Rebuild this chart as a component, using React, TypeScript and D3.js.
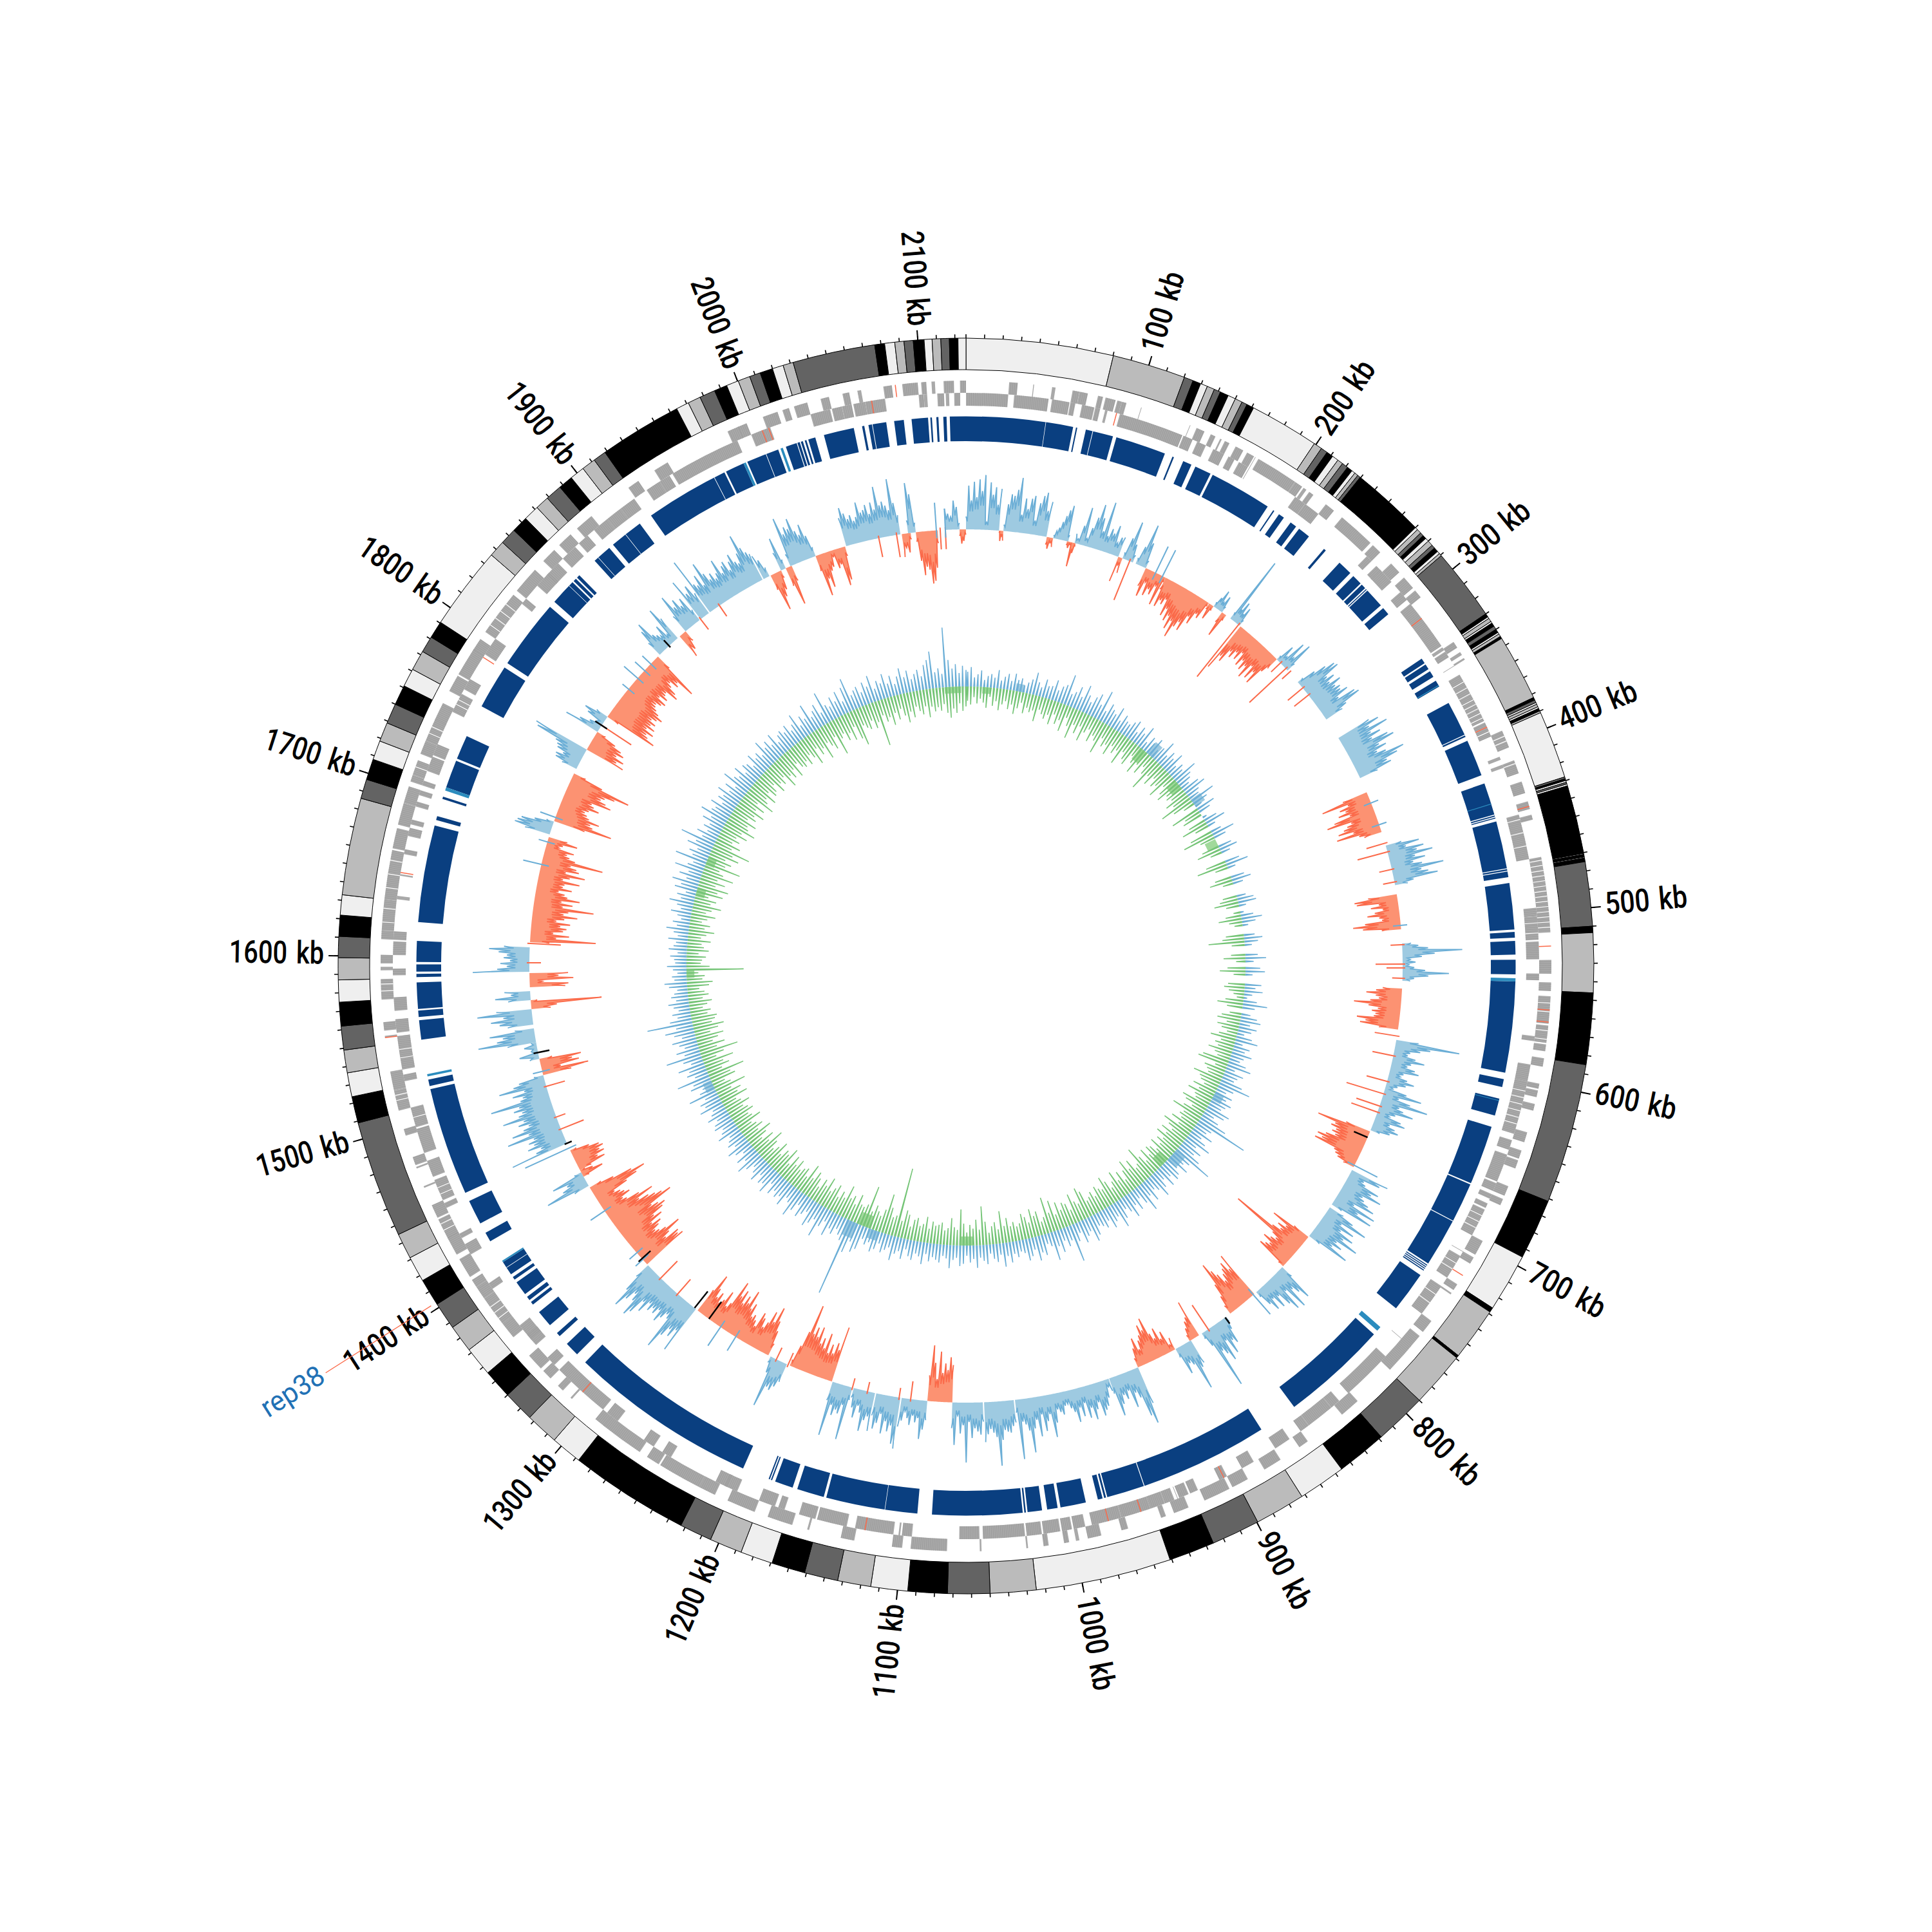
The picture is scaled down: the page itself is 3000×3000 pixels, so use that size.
import * as d3 from "d3";

const GENOME_KB = 2126;
const SHADES: Record<string, string> = { L: "#efefef", M: "#bbbbbb", D: "#636363", K: "#000000" };

const ideogramBands: [number, number, string][] = [
  [0,80.2,"L"],[80.2,120.2,"M"],[120.2,125.2,"D"],[125.2,129.6,"K"],[129.6,133.5,"L"],[133.5,137.6,"M"],[137.6,141.2,"D"],[141.2,145.8,"K"],
  [145.8,150,"L"],[150,154,"M"],[154,157,"D"],[157,161,"K"],[161,199,"L"],[199,203.6,"M"],[203.6,207.3,"D"],[207.3,211,"K"],[211,214.5,"L"],
  [214.5,217.6,"M"],[217.6,221,"D"],[221,224,"K"],[224,226,"L"],[226,228,"M"],[228,229.7,"D"],[229.7,270,"K"],
  [270,271.5,"L"],[271.5,274,"M"],[274,276,"D"],[276,278,"K"],[278,280,"L"],[280,283,"M"],[283,285,"D"],[285,287.5,"K"],[287.5,289,"L"],[289,290.5,"M"],
  [290.5,330,"D"],[330,332,"K"],[332,333,"L"],[333,335,"M"],[335,336,"L"],[336,338,"K"],[338,340,"D"],[340,342,"K"],[342,343,"L"],[343,344.5,"M"],[344.5,345.8,"K"],
  [345.8,382,"M"],[382,383.5,"K"],[383.5,385,"D"],[385,386,"L"],[386,387.5,"M"],[387.5,388.5,"L"],[388.5,390,"K"],[390,391,"M"],
  [391,428,"L"],[428,429,"D"],[429,430,"K"],[430,431,"L"],[431,432,"D"],[432,433,"L"],[433,434.4,"K"],[434.4,469.5,"K"],
  [469.5,470.5,"K"],[470.5,471,"L"],[471,472.5,"K"],[472.5,473,"L"],[473,475,"K"],[475,510,"D"],[510,513.5,"K"],[513.5,546,"M"],[546,585,"K"],[585,661.5,"D"],
  [661.5,694.6,"K"],[694.6,726.4,"L"],[726.4,729,"K"],[729,758,"M"],[758,759.5,"K"],[759.5,790,"M"],[790,818.5,"D"],[818.5,846,"K"],[846,872,"L"],[872,899.5,"M"],
  [899.5,926,"D"],[926,951,"K"],[951,1025,"L"],[1025,1050,"M"],[1050,1073,"D"],[1073,1094.5,"K"],[1094.5,1114.6,"L"],[1114.6,1132.7,"M"],[1132.7,1151,"D"],
  [1151,1169.3,"K"],[1169.3,1187,"L"],[1187,1204.8,"M"],[1204.8,1222.5,"D"],[1222.5,1288,"K"],[1288,1305,"L"],[1305,1323,"M"],[1323,1340,"D"],[1340,1356,"K"],
  [1356,1372,"L"],[1372,1387,"M"],[1387,1402,"D"],[1402,1417,"K"],[1417,1431,"L"],[1431,1445,"M"],[1445,1509,"D"],[1509,1523.5,"K"],[1523.5,1536.6,"L"],
  [1536.6,1549,"M"],[1549,1562,"D"],[1562,1575,"K"],[1575,1587,"L"],[1587,1599,"M"],[1599,1610.5,"D"],[1610.5,1622,"K"],[1622,1633,"L"],[1633,1686,"M"],
  [1686,1696.6,"D"],[1696.6,1708,"K"],[1708,1718.5,"L"],[1718.5,1729,"M"],[1729,1740,"D"],[1740,1751,"K"],[1751,1761,"L"],[1761,1772,"M"],[1772,1781,"D"],
  [1781,1790.5,"K"],[1790.5,1836,"L"],[1836,1845,"M"],[1845,1854,"D"],[1854,1863,"K"],[1863,1871.5,"L"],[1871.5,1879,"M"],[1879,1888,"D"],[1888,1896,"K"],
  [1896,1904,"L"],[1904,1911.6,"M"],[1911.6,1918.7,"D"],[1918.7,1964,"K"],[1964,1971,"L"],[1971,1978,"M"],[1978,1986.6,"D"],[1986.6,1993.7,"K"],[1993.7,2000.4,"L"],
  [2000.4,2007,"M"],[2007,2013,"D"],[2013,2020,"K"],[2020,2026,"L"],[2026,2031.6,"M"],[2031.6,2076.6,"D"],[2076.6,2082,"K"],[2082,2087.5,"L"],[2087.5,2092.5,"M"],
  [2092.5,2097.5,"D"],[2097.5,2103.4,"K"],[2103.4,2107.7,"L"],[2107.7,2112.4,"M"],[2112.4,2117,"D"],[2117,2121.7,"K"],[2121.7,2126,"L"],
];

const geneOuter: [number, number][] = [
  [25,30],[39,39.5],[50,52],[62,66],[66,71],[77,80],[81.5,87.5],[88.5,91],[91,94],[137,142],[146,149],[152,153],[155,158],[162,167],[169.5,174],[177,202],[202,207],[208,210],[212,215],[224,230],[236,258],[260,266],[275,282],[286,294],[296,301],[333,337],[340,342],[344,345],[391.5,402],[410,418],[423,430],[435,439.5],[443,446],[468,512],[528,536],[541,546],[549,565],[566,576],[577,581],[585,590],[600,603],[604,608],[612,616],[629,635],[640,645],[646,651],[662,668],[670,674],[697,706],[708,712],[726,730],[732,733],[752,760],[763,789],[815,827],[852,858],[871,882],[893,903],[905,921],[931,940],[945,948],[968,972],[984,992],[997,999],[1003,1006],[1015,1018],[1027,1028],[1054,1055],[1074,1095],[1100,1106],[1128,1136],[1155,1156],[1165,1180],[1188,1205],[1213,1223],[1223,1249],[1250,1258],[1263,1289],[1288,1295],[1313,1314],[1320,1324],[1330,1336],[1338,1348],[1362,1372],[1372,1390],[1390,1398],[1398,1403],[1405,1417],[1420,1431],[1430,1443],[1444,1452],[1463,1464],[1475,1476],[1477,1482],[1495,1499],[1510,1522],[1522,1533],[1553,1554],[1557,1562],[1575,1587],[1592,1594],[1596,1601],[1610,1615],[1615,1633],[1633,1662],[1663,1675],[1677,1690],[1690,1700],[1703,1707],[1707,1716],[1720,1728],[1728,1742],[1741,1752],[1760,1770],[1771,1788],[1787,1795],[1800,1827],[1830,1846],[1853,1862],[1866,1875],[1880,1891],[1918,1925],[1936,1945],[1984,1991],[1990,1996],[2006,2015],[2018,2022],[2025,2033],[2041,2046],[2054,2058],[2063,2065],[2078,2083],[2089,2098],[2100,2103],[2106,2108],[2113,2119],[2122.5,2126],
];
const geneInner: [number, number][] = [
  [0,25],[28.5,49],[51,61.5],[62,65],[69,76.5],[77,80],[83,84.5],[92,131],[131.7,137.6],[140.5,146],[151,158],[161,165],[168,174],[207,214],[214,224],[262,266],[270,274],[273,283],[291,297],[300,331],[332,334],[335,339],[351,382],[383,392],[405,407],[410,412],[441,468],[497,502],[502,516],[517,527.5],[536,540],[573,576],[590,600],[600,632],[636,642],[645,662],[663,668],[670,673],[676,679],[680,697],[711,726],[732,752],[785,816],[823,829],[829,846],[846,852],[860,870],[885,893],[903,908],[922,927],[928,934],[937,943],[943,952],[952,970],[970,988],[992,999],[1000,1006],[1007,1017],[1018,1027],[1028,1053],[1055,1067],[1095,1101],[1102,1103],[1106,1129],[1134,1152],[1153,1163],[1172,1176],[1178,1188],[1202,1210],[1208,1216],[1246,1252],[1258,1265],[1284,1292],[1295,1330],[1334,1340],[1350,1358],[1354,1365],[1392,1396],[1416,1423],[1427,1430],[1447,1450],[1452,1465],[1467,1477],[1482,1497],[1498,1510],[1526,1530],[1533,1553],[1555,1563],[1568,1576],[1589,1593],[1601,1609],[1610,1615],[1634,1636],[1648,1649],[1661,1664],[1672,1677],[1679,1682],[1690,1693],[1697,1700],[1703,1706],[1712,1721],[1722,1729],[1750,1762],[1765,1772],[1789,1800],[1826,1830],[1840,1850],[1848,1858],[1862,1872],[1875,1882],[1887,1897],[1897,1907],[1907,1917],[1926,1935],[1935,1942],[1944,1987],[1996,2008],[2033,2045],[2046,2052],[2052,2058],[2059,2066],[2066,2078],[2098,2101],[2101,2103],[2109,2113],[2114,2116],[2119,2122.5],
];
const geneGapsOuter = [395,398,412,470,473,476,479,482,485,488,491,494,497,500,503,506,509,553,558,569,574,1376,1380,1384,1436,1440,1516,1519,1580,1584,1620,1628,1640,1648,1656,1712,1733,1737,1805,1810,1815,1820];
const geneGapsInner = [356,360,364,368,371,374,377,380,386,389,444,452,460,506,512,606,610,614,618,622,626,684,688,692,716,720,738,744,1456,1460,1504,1540,1545,1755,1758];
const geneRedInner = [90,311,905,958,978,1123,2003,2007,2070,386,1311,1787,1650];
const geneRedOuter = [438,520,557,564,2085,1553,720];
const geneThinLines = [103,133,175,296,345,708,771,935,1155,1313,1450,2063];

const blueSegments: [number, number][] = [
  [2116,2126],[0,49.2],[49.5,66.4],[68.2,69],[74.4,78.6],[79,91.6],[93.8,125.3],[130.3,131.3],[137.5,143],[145.7,156],[157.5,196.6],[200.7,201.5],[205,208.7],[213.8,218],[220.3,228],[240,241.5],[252.8,262],[264.6,271],[272,275],[275.8,276.4],[277,289.4],[291.6,296.5],[330.7,334],[335,338.4],[340,344],[346.8,351],[362.6,384.5],[385,386],[388.6,411.6],[416.9,437],[437.6,438.4],[439,439.6],[441.4,471],[471.5,472.5],[473,476.5],[480.2,509],[510.5,514],[516,524.5],[527.6,536.7],[541,597.6],[601.7,606.6],[614,624.8],[632,669],[669.8,694.5],[695,725],[726,726.6],[727.2,727.8],[728.4,729],[729.6,730.3],[733.6,759],[780,846.5],[871,951],[951.5,975],[975.8,977],[978,981],[988.6,1004.5],[1006.3,1012.8],[1016,1025],[1026,1027],[1028,1084],[1093,1113],[1113.3,1150],[1151.6,1168.6],[1171.6,1183],[1185,1185.8],[1186.5,1187.3],[1204.3,1322],[1329,1338],[1344.5,1347],[1353.5,1364],[1370,1372],[1373.5,1376],[1378,1387],[1389,1391],[1393,1402],[1417,1423],[1429.6,1445],[1450.6,1518],[1520,1524],[1549,1561],[1563,1567],[1568,1584.4],[1587.7,1589.6],[1591,1595.5],[1597,1610],[1621.6,1682],[1685.5,1688],[1699,1700.5],[1706.5,1724],[1725.4,1740.5],[1761,1788.8],[1792,1835.5],[1839.6,1856],[1857,1859],[1860,1862],[1875,1887],[1890,1911],[1919.5,1972],[1973.1,1985],[1987.5,2008],[2013,2020],[2020.5,2022],[2022.7,2024],[2025.2,2026.3],[2027.5,2032],[2037.5,2056.4],[2061.6,2063],[2065.6,2076.7],[2081.6,2087.6],[2092.4,2102.6],[2104,2105],[2107.7,2109],[2112,2114],
];
const lightBlueSegments: [number, number][] = [[539,541],[774,777],[1402,1403],[1526,1527.5],[1704.5,1706.5],[1985,1986.5],[2009.5,2011],[350,350.6],[430,430.5],[615,615.4]];
const blueWhiteLines = [1398,1853,1878,1900,1965,2000,2068];

// Outer skew track: [start kb, end kb, direction, heights read along the run]
const skewRuns: [number, number, number, number[]][] = [
  [0,25.6,1,[20,68,45,74,50,78,60,85,12,74,55,67,40,65]],
  [25.6,29,-1,[3,16,8,15]],
  [29,62.7,1,[10,42,58,56,66,85,28,54,38,55,60,22,50,62,68,40,55]],
  [63,68,-1,[12,18,8,14]],
  [68,80,1,[5,12,18,28,38,48,56,10]],
  [79,86,-1,[6,10,4,38,16,5]],
  [85,120.6,1,[15,8,30,60,12,30,48,70,50,30,78,25,38,32,46,20,30,32]],
  [120.6,124,-1,[40,12,24]],
  [124,132.6,1,[10,35,63,28,12]],
  [135,143.6,1,[10,30,68,40,12]],
  [143.6,160.8,-1,[30,45,20,40,28,35,18,48,8]],
  [160.8,199.6,-1,[20,47,35,40,30,55,42,60,50,70,55,80,60,50,62,35,45,25,30,6]],
  [200,204,-1,[10,25,8]],
  [204,212,1,[8,18,32,14,26,10]],
  [212,216,-1,[18,40,10]],
  [220,229,1,[12,110,22,36,18,30,10]],
  [230,268,-1,[80,55,62,40,48,35,45,30,50,38,52,42,60,35,55,40,58,30,20]],
  [268,280,1,[8,30,14,45,20,50,15]],
  [292,328.5,1,[10,30,48,62,65,40,50,38,55,42,48,45,55,35,62,67,40,30]],
  [345.6,381,1,[55,69,50,79,48,62,45,70,78,50,60,42,55,83,70,50,55,30]],
  [393,426,-1,[40,76,35,50,42,55,38,65,78,40,48,55,65,42,70,35,28]],
  [437,468.5,1,[25,52,30,57,45,69,40,55,35,48,81,45,55,69,30,20]],
  [475.6,503,-1,[45,67,64,30,43,25,38,50,32,28,55,74,59,30]],
  [514,543,1,[14,25,40,93,50,30,12,20,10,18,35,72,40,18,12]],
  [549,581,-1,[30,40,55,40,35,48,73,50,35,44,38,40,66,52,60,30]],
  [589,662,1,[35,100,55,40,25,22,35,50,30,25,38,45,22,18,30,42,30,18,12,35,60,25,45,74,30,38,55,28,20,40,48,25,35,42,30,15]],
  [663,693.5,-1,[40,85,55,60,50,55,48,62,74,65,75,40,36,30,18]],
  [696,727,1,[62,50,25,30,55,45,64,35,40,50,62,30,69,42,68,18]],
  [729.6,757,1,[25,45,71,30,55,35,60,46,74,40,52,38,68,20]],
  [758,788,-1,[28,65,38,50,42,55,122,48,38,45,55,40,45,52,10]],
  [789,817,1,[20,60,45,35,66,30,62,48,28,45,25,42,28,10]],
  [819,843,-1,[78,55,70,62,55,45,60,70,85,50,30,15]],
  [847,870,1,[8,20,42,35,55,30,62,48,40,99,25,10]],
  [872.5,881,-1,[60,35,30,20,10]],
  [880,893.6,1,[40,45,79,35,30,45,15]],
  [894,926,-1,[20,10,35,25,45,30,40,68,50,60,45,38,25,45,30,15]],
  [926,950,1,[60,91,77,45,35,57,28,40,32,45,62,25]],
  [950.5,1025,1,[20,12,28,40,45,53,30,40,55,35,50,25,45,30,52,35,28,20,22,35,30,25,45,67,30,40,55,28,62,35,48,85,50,40,35,93,20]],
  [1026,1049,1,[35,40,50,48,45,60,100,55,48,42,50,62]],
  [1050,1073.6,1,[30,50,45,40,55,30,93,35,48,20,66,40]],
  [1073.6,1093,-1,[58,70,50,60,45,78,35,60,87,40]],
  [1093,1113,1,[30,45,60,28,35,25,40,30,20,35,45]],
  [1114,1133,1,[80,73,45,55,40,60,30,45,55,35]],
  [1134,1151,1,[60,38,45,63,35,25,45,30,15]],
  [1152,1168,1,[20,84,30,45,40,50,35,85,30]],
  [1168.7,1203.6,-1,[88,50,60,42,55,40,70,45,60,50,75,58,72,60,105,60,35,10]],
  [1206,1220,1,[30,40,48,45,79,25,10]],
  [1222,1287,-1,[20,40,55,76,50,65,45,35,48,55,30,38,45,40,60,50,78,55,65,50,70,58,80,40,32,55,38,30,45,35,48,69,40]],
  [1288.6,1339,1,[79,45,60,50,65,90,40,35,45,55,38,48,42,50,40,60,45,70,79,55,45,60,78,50,25]],
  [1340,1414.5,-1,[75,68,72,50,60,83,60,50,45,55,62,48,70,58,78,85,75,65,104,90,80,70,55,82,60,40,35,50,43,38,30,55,75,91,70,40,20]],
  [1416,1428,1,[25,70,40,30,52,12]],
  [1424,1430,-1,[10,35,20,8]],
  [1430,1447,-1,[20,45,35,48,42,50,45,30,10]],
  [1453,1509,1,[92,50,40,60,48,55,45,86,50,75,55,45,60,50,82,55,48,60,50,94,45,40,55,35,74,50,40,15]],
  [1509,1522,-1,[45,73,30,60,50,65,20]],
  [1522,1535,1,[15,30,10,20,8]],
  [1535,1546,1,[45,90,60,50,70,30]],
  [1549,1561,1,[40,52,65,45,85,55]],
  [1561,1568,-1,[30,40,110,10]],
  [1568,1575,1,[35,55,30,40]],
  [1578,1589,-1,[55,60,20,68,45,60]],
  [1590,1609,1,[88,50,35,45,30,40,35,48,63,40]],
  [1613,1696,-1,[30,102,40,60,35,50,55,45,60,38,50,70,48,55,94,45,60,42,70,50,45,35,55,40,42,65,38,48,71,40,60,55,45,95,50,40,35,45,20,25,47,30]],
  [1698,1708.5,1,[40,58,55,50,30,12]],
  [1709,1749,-1,[50,92,60,55,68,50,45,40,45,60,50,45,75,65,55,60,75,97,50,20]],
  [1753,1770,1,[25,38,40,30,42,45,50,85,90]],
  [1770,1786,-1,[64,50,60,45,55,48,35,15]],
  [1786,1800,1,[57,35,20,10,30,38,20]],
  [1800,1861,-1,[20,84,70,65,75,60,72,62,68,58,65,72,62,55,50,48,55,60,45,57,50,48,67,60,48,42,55,50,78,25]],
  [1863,1882,1,[25,45,56,30,25,20,35,15,60,40]],
  [1884,1890,-1,[40,30,18]],
  [1890,1904,1,[30,63,40,50,35,45,20]],
  [1905,1913,1,[71,45,55,38]],
  [1914,1962,1,[95,50,45,60,40,76,55,42,50,38,45,65,40,50,55,38,50,60,45,40,55,83,60,50,45]],
  [1963,1968,1,[40,30,15]],
  [1969,1978,-1,[25,60,40,30,12]],
  [1978,1982,1,[30,52,15]],
  [1982,1987,-1,[30,62,25]],
  [1986,2007,1,[20,78,50,60,55,70,48,40,55,35,15]],
  [2007,2031,-1,[25,66,40,55,30,25,10,30,25,60,52,15]],
  [2032,2075,1,[45,60,50,40,45,35,40,62,45,48,55,40,57,45,80,50,55,48,40,88,50,30]],
  [2076,2083,-1,[36,22,30,10]],
  [2081,2087,1,[20,78,60,15]],
  [2087,2104,-1,[15,45,68,55,60,82,78,58,20]],
  [2110,2121,1,[33,25,20,45,35,10]],
  [2121,2126,-1,[10,22,18,8]],
];
// Single opposite spikes inside runs: [kb, signed height]
const skewCross: [number, number][] = [
  [130,-65],[152,45],[158,45],[228,-103],[278,-77],[272,-20],[282,-15],[298,-30],[305,-28],[402,12],[420,12],[435,-30],[442,-48],[456,-20],[466,-18],
  [500,10],[515,-18],[530,-42],[533,-25],[541,-16],[586,-35],[601.6,-33],[622,-33],[632,-60],[642,-38],[647,-43],[692,40],[820,40],[864,-45],[1106,-28],[1115,-15],[1140,-15],[1152,-15],
  [1205,-20],[1215,-20],[1251,25],[1265,35],[1307,-30],[1325,-37],[1345,15],[1352,15],[1393,26],[1449,75],[1465,-38],[1475,-15],[1500,-30],[1512,15],[1597,-18],[1612,-48],[1674,29],[1692,14],[1712,25],[1792,-55],
  [1827,12],[1838,28],[1846,20],[1853,18],[1905,-20],[1923,-20],[2058,-30],[2072,-35],[2103,43],[2106,-30],[2110,-30],[2110,33],
];
const skewBlack: [number, number, number][] = [[668,655,678],[848,678,690],[1276,645,678],[1290,645,678],[1346,660,685],[1527,660,685],[1453,670,682],[1792,668,690],[1873,675,690]];

// Inner track: heights per 4 kb bin
const innerUp = [
  32,40,22,28,35,18,26,30,24,38,20,28,34,22,36,26,30,18,25,32,45,30,22,38,28,
  30,42,26,35,40,58,28,34,45,30,52,38,28,40,48,32,58,26,42,35,30,45,24,38,30,
  28,36,42,24,38,30,46,20,35,28,40,22,32,48,26,38,30,44,24,34,28,50,36,30,22,
  38,46,30,25,50,34,18,40,28,0,12,30,42,20,0,25,46,28,0,0,30,38,22,0,0,
  32,45,20,0,0,30,40,24,0,0,0,22,35,38,18,0,10,28,42,30,15,0,0,25,38,
  30,18,0,0,28,42,20,0,32,40,18,0,0,35,25,38,20,10,30,48,28,0,22,35,42,
  25,38,30,18,34,45,20,35,28,42,30,25,38,48,22,40,32,28,45,60,35,24,38,30,42,
  35,30,48,42,26,38,55,90,36,30,45,28,40,52,30,44,35,50,73,40,32,45,28,38,42,
  30,44,26,38,50,34,28,45,32,55,38,24,42,30,48,35,26,40,52,30,36,44,28,38,32,
  28,42,50,30,36,45,25,38,68,32,40,28,46,34,55,30,24,42,36,48,28,38,44,30,26,
  35,28,42,30,47,26,38,32,22,40,34,28,45,30,36,24,38,42,28,32,46,30,26,38,34,
  30,38,26,44,32,28,40,35,24,42,30,36,48,28,34,40,26,38,44,30,36,28,48,55,40,
  60,122,45,38,30,42,35,50,28,40,60,34,44,52,30,38,46,28,42,55,35,30,48,36,42,
  34,44,28,50,38,42,30,46,36,28,40,52,32,44,26,38,48,30,40,34,28,46,36,30,42,
  38,30,44,34,28,48,36,42,30,55,34,26,45,38,62,30,42,36,52,28,40,65,34,46,30,
  38,48,30,42,55,36,79,44,30,38,26,34,42,28,36,30,24,38,45,28,32,22,30,40,26,
  28,35,22,38,30,26,40,24,32,45,28,36,22,30,42,26,34,48,30,38,24,45,36,52,30,
  44,30,55,36,28,60,34,42,30,50,38,65,32,44,28,38,30,46,34,55,40,36,48,30,42,
  36,50,32,44,28,55,40,34,48,30,42,38,28,46,34,40,30,52,36,44,32,48,28,38,42,
  35,44,30,38,52,28,42,34,55,30,38,46,28,60,36,30,44,34,48,28,50,62,32,38,42,
  30,45,36,52,28,40,34,48,30,42,26,38,50,34,44,28,36,42,30,48,55,67,34,40,30,98,52,38,45,30,42,35,
];
const innerDown = [
  24,30,18,28,20,26,34,16,30,22,36,26,20,32,24,38,28,18,34,24,30,26,42,22,28,
  34,26,40,22,36,28,44,20,32,50,26,38,24,46,30,22,40,28,34,52,24,36,30,44,26,
  36,28,48,24,34,40,20,30,44,26,38,22,32,56,28,40,24,36,30,46,22,34,42,28,32,
  26,40,30,55,36,20,0,48,28,34,0,30,44,24,0,38,52,26,0,0,30,40,20,0,0,
  34,50,22,0,0,28,38,18,0,0,0,24,30,40,22,0,12,26,38,22,14,0,0,30,36,
  58,22,0,0,24,36,16,0,30,42,20,0,0,28,34,26,18,12,30,42,26,0,20,32,38,
  22,36,28,18,30,42,24,32,26,40,28,22,44,50,20,36,30,26,48,36,32,24,40,28,44,
  30,26,46,38,24,36,52,30,34,28,42,26,50,38,28,44,32,46,30,38,28,42,26,36,40,
  28,42,24,36,55,30,26,44,32,50,36,22,40,28,46,32,24,38,48,30,34,40,26,36,30,
  26,44,52,28,34,48,24,36,40,30,44,26,50,32,58,28,22,40,34,46,26,36,42,28,24,
  32,26,40,28,52,24,36,30,20,38,62,26,42,28,34,22,36,58,26,30,44,28,24,36,32,
  30,36,24,42,30,26,38,34,22,40,46,28,109,34,30,44,64,38,26,32,40,28,67,36,30,
  32,46,28,40,34,52,30,38,26,44,36,28,48,32,40,24,36,44,30,50,26,38,34,28,42,
  30,42,24,48,34,38,26,44,32,24,36,50,28,40,22,34,46,26,38,30,24,44,32,28,40,
  34,28,42,30,24,46,32,40,26,52,30,22,42,36,60,26,40,32,50,24,38,62,30,44,26,
  36,46,26,40,50,32,38,42,28,34,22,30,38,24,34,28,20,36,42,26,30,20,90,38,24,
  26,32,20,36,28,24,38,22,30,42,26,34,20,28,40,24,32,46,28,36,22,44,34,50,28,
  42,28,52,34,26,58,32,40,28,48,36,62,30,42,26,36,28,44,32,52,38,34,46,28,40,
  34,48,30,42,26,52,38,32,46,28,40,36,26,44,32,38,28,50,34,42,30,46,26,36,40,
  33,42,28,36,50,26,40,32,52,28,36,44,26,58,34,28,42,32,46,26,48,60,30,36,40,
  28,42,34,73,26,38,32,46,28,40,24,36,48,32,42,26,34,40,28,46,30,38,32,38,28,42,50,36,43,28,40,33,
];
const innerWedges: [number, number, number, number][] = [
  [228,238,-1,22],[238,248,1,22],[285,298,-1,18],[316,326,1,18],[372,382,-1,18],[690,700,1,15],[775,790,1,18],[790,802,-1,18],[1055,1070,-1,14],
  [1170,1182,1,15],[1182,1197,-1,20],[1197,1210,1,25],[1440,1452,1,14],[1580,1590,-1,12],[1680,1690,-1,14],[1720,1730,-1,14],[2100,2120,-1,10],[20,30,-1,10],[60,70,1,12],
];

const majorTicks = d3.range(100, 2200, 100);
const minorTicks = d3.range(0, GENOME_KB, 10);

const CX = 1500, CY = 1500;
const angle = d3.scaleLinear().domain([0, GENOME_KB]).range([0, 2 * Math.PI]);
const arc = d3.arc<{ a: number; b: number; r0: number; r1: number }>()
  .startAngle((d) => angle(d.a)).endAngle((d) => angle(d.b))
  .innerRadius((d) => d.r0).outerRadius((d) => d.r1);
const seg = (a: number, b: number, r0: number, r1: number) => arc({ a, b, r0, r1 }) as string;
const polar = (kb: number, r: number): [number, number] => {
  const t = angle(kb);
  return [r * Math.sin(t), -r * Math.cos(t)];
};
const radial = (kb: number, r0: number, r1: number) => {
  const p = polar(kb, r0), q = polar(kb, r1);
  return { x1: p[0], y1: p[1], x2: q[0], y2: q[1] };
};

const R_SKEW = 678, R_INNER = 434;
const C = { blueFill: "#9ecae1", blueLine: "#6baed6", redFill: "#fc9272", redLine: "#fb6a4a", greenFill: "#a1d99b", greenLine: "#74c476" };
const LABEL_FONT = "Roboto, sans-serif";
const upHeight = d3.scalePow().exponent(1.25).domain([0, 122]).range([0, 122]);
const downHeight = d3.scalePow().exponent(1.05).domain([0, 122]).range([0, 122]);

// Between two read heights the trace falls back to a floor, which gives the sawtooth of the track.
function sawtooth(s: number, e: number, vals: number[]): [number, number][] {
  const kbOf = d3.scaleLinear().domain([0, vals.length - 1]).range([s, e]);
  const out: [number, number][] = [];
  vals.forEach((v, i) => {
    out.push([kbOf(i), v]);
    if (i < vals.length - 1) out.push([kbOf(i + 0.5), Math.min(v, vals[i + 1]) * 0.62]);
  });
  return out;
}

function SkewRun({ run }: { run: [number, number, number, number[]] }) {
  const [s, e, dir, vals] = run;
  const pts = sawtooth(s, e, vals);
  const area = d3.areaRadial<[number, number]>().angle((d) => angle(d[0])).innerRadius(R_SKEW).outerRadius((d) => R_SKEW + dir * d[1]);
  const line = d3.lineRadial<[number, number]>().angle((d) => angle(d[0])).radius((d) => R_SKEW + dir * d[1]);
  return (
    <g>
      <path d={area(pts) as string} fill={dir > 0 ? C.blueFill : C.redFill} />
      <path d={line(pts) as string} fill="none" stroke={dir > 0 ? C.blueLine : C.redLine} strokeWidth={1.8} strokeLinejoin="miter" />
    </g>
  );
}

function innerPath(vals: number[], dir: number, h: (v: number) => number) {
  const line = d3.lineRadial<[number, number]>().angle((d) => angle(d[0])).radius((d) => d[1]);
  return vals
    .map((v, i) => {
      if (!v) return "";
      const k = i * 4 + 2;
      return line([[k - 0.7, R_INNER], [k, R_INNER + dir * h(v)], [k + 0.7, R_INNER]]) as string;
    })
    .join("");
}

const geneHairs = (genes: [number, number][]) =>
  genes.flatMap(([a, b]) => (b - a > 2 ? d3.range(a + 1.1, b, 1.1) : []));

export default function App() {
  return (
    <svg width={3000} height={3000} viewBox="0 0 3000 3000" style={{ position: "absolute", left: 0, top: 0, background: "#fff" }}>
      <g transform={`translate(${CX},${CY})`}>
        {/* ideogram */}
        {ideogramBands.map(([a, b, s], i) => (
          <path key={i} d={seg(a, b, 926, 975)} fill={SHADES[s]} stroke="#000" strokeWidth={1} />
        ))}
        {minorTicks.map((k) => <line key={k} {...radial(k, 975, 981)} stroke="#000" strokeWidth={1.6} />)}
        {majorTicks.map((k) => <line key={k} {...radial(k, 975, 990)} stroke="#000" strokeWidth={2} />)}
        {majorTicks.map((k) => {
          const deg = (angle(k) * 180) / Math.PI;
          const [x, y] = polar(k, 997);
          const right = deg < 180;
          const label = `${k} kb`;
          return (
            <text key={k} x={x} y={y} transform={`rotate(${right ? deg - 90 : deg + 90} ${x} ${y})`}
              textAnchor={right ? "start" : "end"} dominantBaseline="middle" fontFamily={LABEL_FONT}
              fontSize={49} fontWeight={500} wordSpacing={5} textLength={128 + 19.5 * (String(k).length - 3)} lengthAdjust="spacingAndGlyphs" fill="#000">{label}</text>
          );
        })}
        {/* rep38 label */}
        <line {...radial(1403, 984, 1178)} stroke={C.redLine} strokeWidth={1.3} />
        {(() => {
          const [x, y] = polar(1403, 1183);
          const deg = (angle(1403) * 180) / Math.PI + 90;
          return (
            <text x={x} y={y} transform={`rotate(${deg} ${x} ${y})`} textAnchor="end" dominantBaseline="middle"
              fontFamily={LABEL_FONT} fontSize={44} textLength={108} lengthAdjust="spacingAndGlyphs" fill="#2171b5">rep38</text>
          );
        })()}
        {/* genes */}
        {geneThinLines.map((k, i) => <line key={i} {...radial(k, 870, 909)} stroke="#a6a6a6" strokeWidth={1} />)}
        {geneOuter.map(([a, b], i) => <path key={i} d={seg(a, b, 890, 909)} fill="#a9a9a9" />)}
        {geneInner.map(([a, b], i) => <path key={i} d={seg(a, b, 870, 890)} fill="#a9a9a9" />)}
        {geneHairs(geneOuter).map((k, i) => <line key={i} {...radial(k, 890, 909)} stroke="#949494" strokeWidth={0.6} />)}
        {geneHairs(geneInner).map((k, i) => <line key={i} {...radial(k, 870, 890)} stroke="#949494" strokeWidth={0.6} />)}
        {geneGapsOuter.map((k, i) => <line key={i} {...radial(k, 890, 909)} stroke="#fff" strokeWidth={1.2} />)}
        {geneGapsInner.map((k, i) => <line key={i} {...radial(k, 870, 890)} stroke="#fff" strokeWidth={1.2} />)}
        {geneRedInner.map((k, i) => <line key={i} {...radial(k, 870, 890)} stroke={C.redLine} strokeWidth={1.5} />)}
        {geneRedOuter.map((k, i) => <line key={i} {...radial(k, 890, 909)} stroke={C.redLine} strokeWidth={1.5} />)}
        {/* blue track */}
        {blueSegments.map(([a, b], i) => <path key={i} d={seg(a, b, 815, 853.5)} fill="#0a3f80" />)}
        {lightBlueSegments.map(([a, b], i) => <path key={i} d={seg(a, b, 815, 853.5)} fill="#2b8cbe" />)}
        {blueWhiteLines.map((k, i) => <line key={i} {...radial(k, 815, 853.5)} stroke="#fff" strokeWidth={1} />)}
        {/* outer skew */}
        {skewRuns.map((r, i) => <SkewRun key={i} run={r} />)}
        {skewCross.map(([k, v], i) => (
          <line key={i} {...radial(k, R_SKEW - (v > 0 ? 12 : -4), R_SKEW + v)} stroke={v > 0 ? C.blueLine : C.redLine} strokeWidth={2} />
        ))}
        {skewBlack.map(([k, a, b], i) => <line key={i} {...radial(k, a, b)} stroke="#000" strokeWidth={2.4} />)}
        {/* inner track */}
        {innerWedges.map(([a, b, dir, h], i) => (
          <path key={i} d={seg(a, b, dir > 0 ? R_INNER : R_INNER - h, dir > 0 ? R_INNER + h : R_INNER)} fill={dir > 0 ? C.blueFill : C.greenFill} />
        ))}
        <path d={innerPath(innerUp, 1, upHeight)} fill={C.blueFill} stroke={C.blueLine} strokeWidth={1.5} />
        <path d={innerPath(innerDown, -1, downHeight)} fill={C.greenFill} stroke={C.greenLine} strokeWidth={1.5} />
      </g>
    </svg>
  );
}
